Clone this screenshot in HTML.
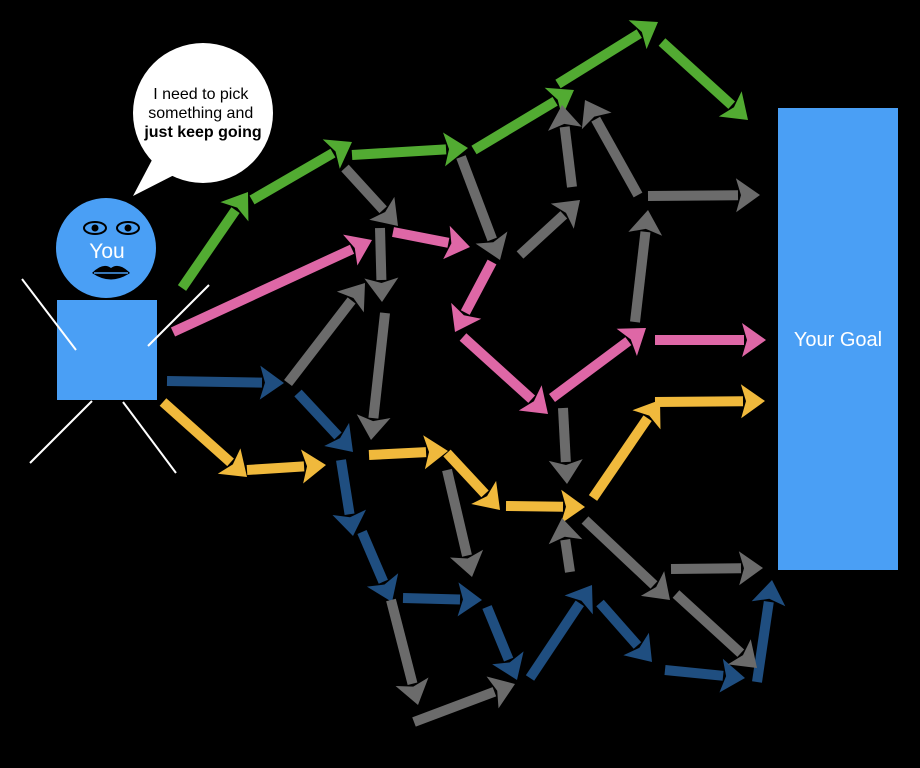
<!DOCTYPE html>
<html><head><meta charset="utf-8"><style>
html,body{margin:0;padding:0;background:#000;width:920px;height:768px;overflow:hidden}
svg{display:block}
</style></head><body>
<svg id="s" width="920" height="768" viewBox="0 0 920 768" xmlns="http://www.w3.org/2000/svg">
<rect width="920" height="768" fill="#000"/>
<rect x="778" y="108" width="120" height="462" fill="#4a9ff5"/>
<text x="838" y="346" font-family="Liberation Sans, sans-serif" font-size="20" fill="#fff" text-anchor="middle">Your Goal</text>
<!-- bubble -->
<circle cx="203" cy="113" r="70" fill="#fff"/>
<polygon points="152,160 133,196 180,172" fill="#fff"/>
<text font-family="Liberation Sans, sans-serif" font-size="16" fill="#000" text-anchor="middle">
<tspan x="203" y="99">I need to pick</tspan>
<tspan x="203" y="118">something and</tspan>
<tspan x="203" y="137" font-weight="bold">just keep going</tspan></text>
<!-- person -->
<rect x="57" y="300" width="100" height="100" fill="#4a9ff5"/>
<g stroke="#fff" stroke-width="2">
<line x1="22" y1="279" x2="76" y2="350"/>
<line x1="209" y1="285" x2="148" y2="346"/>
<line x1="92" y1="401" x2="30" y2="463"/>
<line x1="123" y1="402" x2="176" y2="473"/>
</g>
<circle cx="106" cy="248" r="50" fill="#4a9ff5"/>
<g fill="#4a9ff5" stroke="#000" stroke-width="2">
<ellipse cx="95" cy="228" rx="11" ry="6"/><ellipse cx="128" cy="228" rx="11" ry="6"/>
</g>
<circle cx="95" cy="228" r="3.5" fill="#000"/><circle cx="128" cy="228" r="3.5" fill="#000"/>
<path d="M92,273 Q103,262 111,268 Q119,262 130,273 Q111,286 92,273Z" fill="#000"/>
<line x1="94" y1="273" x2="128" y2="273" stroke="#4a9ff5" stroke-width="1.5"/>
<text x="107" y="258" font-family="Liberation Sans, sans-serif" font-size="21" fill="#fff" text-anchor="middle">You</text>
<g id="arrows"></g>
</svg>
<script>
var G='#52ab32',P='#de67a6',B='#1f4e80',Y='#f0b93c',R='#6b6b6b';
var A=[
[G,182,288,248,192],[G,252,200,352,142],[G,352,155,468,148],[G,474,150,574,90],[G,558,84,658,22],[G,662,42,748,120],
[P,173,332,372,240],[P,393,232,470,247],[P,492,262,455,332],[P,463,337,548,414],[P,552,398,646,328],[P,655,340,766,340],
[B,167,381,284,383],[B,298,393,353,452],[B,341,460,353,536],[B,362,532,392,602],[B,403,598,482,600],[B,487,607,517,680],[B,530,678,592,585],[B,600,603,652,662],[B,665,670,745,678],[B,757,682,772,580],
[Y,163,402,247,477],[Y,247,470,326,465],[Y,369,455,448,451],[Y,447,453,500,510],[Y,506,506,585,507],[Y,593,498,660,400],[Y,655,402,765,401],
[R,345,168,398,226],[R,380,228,382,302],[R,288,383,365,283],[R,385,313,371,440],[R,461,157,500,260],[R,520,255,580,200],[R,572,187,562,105],[R,638,195,585,100],[R,648,196,760,195],[R,635,322,648,210],[R,563,408,567,484],[R,447,470,472,577],[R,391,600,418,705],[R,414,722,515,684],[R,570,572,562,518],[R,585,520,670,600],[R,671,569,763,568],[R,676,594,757,668]
];
var g=document.getElementById('arrows'),h='';
A.forEach(function(a){
var c=a[0],x1=a[1],y1=a[2],x2=a[3],y2=a[4];
var dx=x2-x1,dy=y2-y1,L=Math.sqrt(dx*dx+dy*dy),ux=dx/L,uy=dy/L,nx=-uy,ny=ux;
var hl=24,hw=17,bx=x2-ux*hl,by=y2-uy*hl;
h+='<line x1="'+x1+'" y1="'+y1+'" x2="'+(bx+ux*2)+'" y2="'+(by+uy*2)+'" stroke="'+c+'" stroke-width="10"/>';
h+='<polygon fill="'+c+'" points="'+x2+','+y2+' '+(bx+nx*hw)+','+(by+ny*hw)+' '+(bx+ux*5)+','+(by+uy*5)+' '+(bx-nx*hw)+','+(by-ny*hw)+'"/>';
});
g.innerHTML=h;
</script>
</body></html>
